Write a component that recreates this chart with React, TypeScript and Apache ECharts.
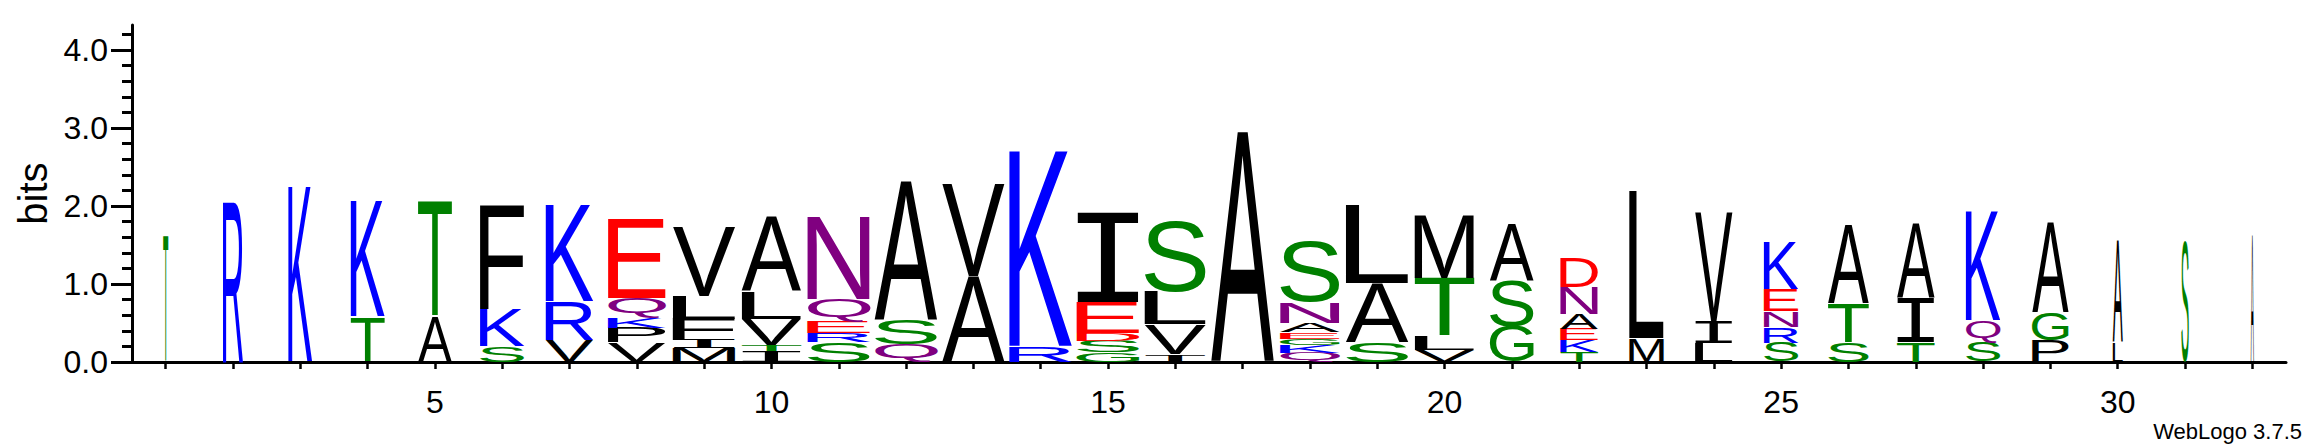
import { useEffect, useRef } from "react";
import * as echarts from "echarts";

const FONT = "Liberation Sans";
const I_FONT = "Liberation Mono"; // an I with bars, as WebLogo draws it
const MAX_BITS = Math.log2(20);
const FULL_STACK = 0.936; // share of a column a full stack takes

const positions = [
  1, 2, 3, 4, 5, 6, 7, 8, 9, 10, 11, 12, 13, 14, 15, 16,
  17, 18, 19, 20, 21, 22, 23, 24, 25, 26, 27, 28, 29, 30, 31, 32,
];
const xLabels = [5, 10, 15, 20, 25, 30];
const yLabels = [0, 1, 2, 3, 4];
const yMinorTicks = [
  0.2, 0.4, 0.6, 0.8, 1.2, 1.4, 1.6, 1.8, 2.2, 2.4, 2.6, 2.8, 3.2, 3.4, 3.6, 3.8, 4.2,
];

// width of each stack (fraction of sequences with a residue there)
const stackWidths = [
  0.08, 0.32, 0.38, 0.54, 0.54, 0.71, 0.76, 0.92, 1, 0.95, 1, 1, 1, 1, 1, 0.98,
  1, 0.95, 1, 0.95, 0.7, 0.6, 0.55, 0.6, 0.55, 0.65, 0.6, 0.55, 0.58, 0.16, 0.12, 0.05,
];

// residues of each stack, bottom to top
const residues = [
  ["T"],
  ["R"],
  ["K"],
  ["T", "K"],
  ["A", "T"],
  ["S", "K", "F"],
  ["V", "R", "K"],
  ["V", "P", "K", "Q", "E"],
  ["M", "I", "F", "L", "V"],
  ["I", "T", "V", "L", "A"],
  ["S", "R", "E", "Q", "N"],
  ["Q", "S", "A"],
  ["A", "V"],
  ["R", "K"],
  ["G", "S", "D", "E", "I"],
  ["I", "V", "L", "S"],
  ["A"],
  ["Q", "K", "G", "E", "A", "N", "S"],
  ["S", "A", "L"],
  ["V", "L", "T", "M"],
  ["G", "S", "A"],
  ["T", "K", "E", "A", "N", "D"],
  ["M", "L"],
  ["L", "I", "V"],
  ["S", "R", "N", "E", "K"],
  ["S", "T", "A"],
  ["T", "I", "A"],
  ["S", "Q", "K"],
  ["P", "G", "A"],
  ["L", "A"],
  ["S"],
  ["A"],
];

// height in bits of each residue above
const bits = [
  [1.62],
  [2.09],
  [2.24],
  [0.57, 1.48],
  [0.57, 1.48],
  [0.2, 0.48, 1.33],
  [0.28, 0.5, 1.23],
  [0.25, 0.19, 0.13, 0.25, 1.01],
  [0.18, 0.1, 0.27, 0.3, 0.88],
  [0.14, 0.08, 0.33, 0.35, 0.95],
  [0.25, 0.12, 0.14, 0.3, 1.05],
  [0.22, 0.33, 1.78],
  [1.1, 1.18],
  [0.2, 2.5],
  [0.12, 0.15, 0.1, 0.4, 1.14],
  [0.1, 0.38, 0.42, 0.92],
  [2.94],
  [0.12, 0.1, 0.08, 0.08, 0.12, 0.26, 0.78],
  [0.25, 0.76, 1.0],
  [0.15, 0.18, 0.75, 0.8],
  [0.45, 0.6, 0.72],
  [0.13, 0.15, 0.15, 0.19, 0.34, 0.38],
  [0.3, 1.89],
  [0.25, 0.28, 1.4],
  [0.25, 0.2, 0.2, 0.28, 0.6],
  [0.25, 0.5, 1.0],
  [0.25, 0.57, 0.95],
  [0.25, 0.28, 1.4],
  [0.28, 0.35, 1.15],
  [0.25, 1.3],
  [1.58],
  [1.62],
];

const residueColors: Record<string, string> = {
  G: "#008000", S: "#008000", T: "#008000", Y: "#008000", C: "#008000",
  N: "#800080", Q: "#800080",
  K: "#0000ff", R: "#0000ff", H: "#0000ff",
  D: "#ff0000", E: "#ff0000",
};

type Metric = { left: number; right: number; ascent: number; descent: number; shift: number; family: string };

const SVG_NS = "http://www.w3.org/2000/svg";

// ink box of each letter at 100px, and where the alphabetic baseline sits
// below the "central" baseline that the svg renderer uses
function measureLetters(chars: string[]): Record<string, Metric> {
  const ctx = document.createElement("canvas").getContext("2d")!;
  const svg = document.createElementNS(SVG_NS, "svg");
  svg.setAttribute("width", "400");
  svg.setAttribute("height", "400");
  svg.style.position = "absolute";
  svg.style.left = "-2000px";
  svg.style.top = "0";
  svg.style.visibility = "hidden";
  document.body.appendChild(svg);
  const boxY = (family: string, central: boolean) => {
    const t = document.createElementNS(SVG_NS, "text");
    t.setAttribute("x", "0");
    t.setAttribute("y", "200");
    if (central) t.setAttribute("dominant-baseline", "central");
    t.setAttribute("style", `font-size:100px;font-family:${family};`);
    t.textContent = "H";
    svg.appendChild(t);
    return t.getBBox().y;
  };
  const shifts: Record<string, number> = {};
  for (const f of [FONT, I_FONT]) shifts[f] = boxY(f, true) - boxY(f, false);
  document.body.removeChild(svg);

  const out: Record<string, Metric> = {};
  for (const ch of chars) {
    const family = ch === "I" ? I_FONT : FONT;
    ctx.font = `100px "${family}"`;
    const m = ctx.measureText(ch);
    out[ch] = {
      left: m.actualBoundingBoxLeft,
      right: m.actualBoundingBoxRight,
      ascent: m.actualBoundingBoxAscent,
      descent: m.actualBoundingBoxDescent,
      shift: shifts[family],
      family,
    };
  }
  return out;
}

export default function App() {
  const ref = useRef<HTMLDivElement>(null);

  useEffect(() => {
    if (!ref.current) return;
    document.body.style.margin = "0";

    const letters: string[] = [];
    const data: number[][] = [];
    positions.forEach((pos, i) => {
      let base = 0;
      residues[i].forEach((ch, j) => {
        const h = bits[i][j];
        letters.push(ch);
        data.push([pos, base, base + h, stackWidths[i]]);
        base += h;
      });
    });
    const metrics = measureLetters(Array.from(new Set(letters)));

    const chart = echarts.init(ref.current, undefined, { renderer: "svg" });

    const renderItem = (params: any, api: any) => {
      const ch = letters[params.dataIndex];
      const m = metrics[ch];
      const pos = api.value(0);
      const [cx, yBot] = api.coord([pos, api.value(1)]);
      const yTop = api.coord([pos, api.value(2)])[1];
      const w = api.size([1, 0])[0] * FULL_STACK * api.value(3);
      const xL = cx - w / 2;
      const sx = w / (m.left + m.right);
      const sy = (yBot - yTop) / (m.ascent + m.descent);
      return {
        type: "text",
        silent: true,
        x: xL + m.left * sx,
        y: yTop - (m.shift - m.ascent) * sy,
        scaleX: sx,
        scaleY: sy,
        style: {
          text: ch,
          x: 0,
          y: 0,
          fill: residueColors[ch] ?? "#000000",
          fontSize: 100,
          fontFamily: m.family,
          align: "left",
          verticalAlign: "middle",
        },
      };
    };

    const axisColor = "#000000";

    chart.setOption({
      animation: false,
      backgroundColor: "#ffffff",
      textStyle: { fontFamily: FONT },
      grid: { left: 132, right: 23, top: 25, bottom: 82 },
      xAxis: {
        type: "value",
        min: 0.5,
        max: 32.5,
        axisLine: { show: true, onZero: false, lineStyle: { color: axisColor, width: 3 } },
        axisTick: {
          show: true,
          customValues: positions,
          length: 7,
          lineStyle: { color: axisColor, width: 2.5 },
        },
        axisLabel: {
          customValues: xLabels,
          fontSize: 32,
          color: axisColor,
          margin: 24,
        },
        splitLine: { show: false },
      },
      yAxis: [
        {
          type: "value",
          min: 0,
          max: MAX_BITS,
          axisLine: { show: true, lineStyle: { color: axisColor, width: 3 } },
          axisTick: {
            show: true,
            customValues: yLabels,
            length: 21,
            lineStyle: { color: axisColor, width: 3 },
          },
          axisLabel: {
            customValues: yLabels,
            formatter: (v: number) => v.toFixed(1),
            fontSize: 32,
            color: axisColor,
            margin: 24,
          },
          splitLine: { show: false },
          name: "bits",
          nameLocation: "middle",
          nameRotate: 90,
          nameGap: 75,
          nameTextStyle: { fontSize: 40, color: axisColor },
        },
        {
          type: "value",
          min: 0,
          max: MAX_BITS,
          position: "left",
          axisLine: { show: false },
          axisTick: {
            show: true,
            customValues: yMinorTicks,
            length: 10,
            lineStyle: { color: axisColor, width: 3 },
          },
          axisLabel: { show: false },
          splitLine: { show: false },
        },
      ],
      series: [
        {
          type: "custom",
          xAxisIndex: 0,
          yAxisIndex: 0,
          clip: false,
          renderItem,
          data,
        },
      ],
      graphic: [
        {
          type: "text",
          right: 7,
          bottom: 2,
          style: { text: "WebLogo 3.7.5", fontSize: 22, fill: axisColor, fontFamily: FONT },
        },
      ],
    });

    return () => {
      chart.dispose();
    };
  }, []);

  return <div ref={ref} style={{ width: 2309, height: 444 }} />;
}
